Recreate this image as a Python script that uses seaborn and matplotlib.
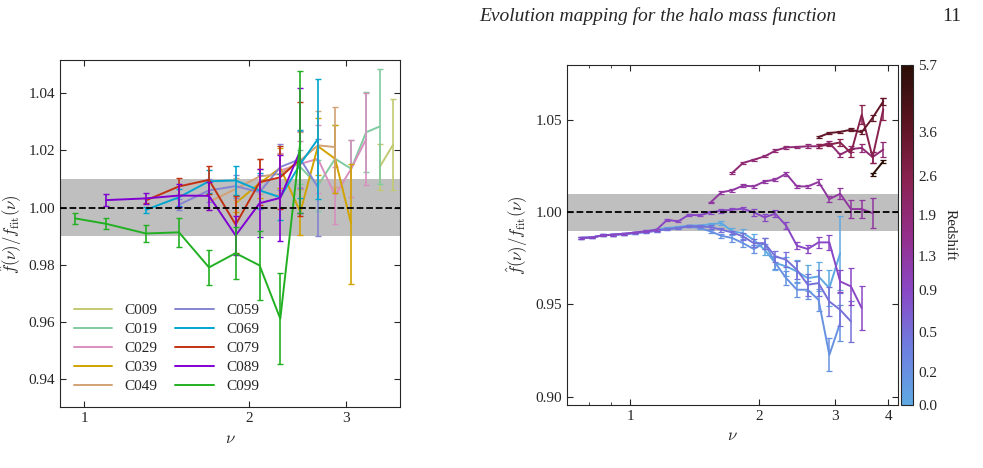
import numpy as np
import matplotlib
matplotlib.use("Agg")
import matplotlib.pyplot as plt
import matplotlib.colors as mcolors
import seaborn as sns
import pandas as pd

# ---------------- left panel data ----------------
nu_left = [0.963, 1.097, 1.297, 1.49, 1.69, 1.89, 2.09, 2.28, 2.48, 2.67, 2.87, 3.07, 3.27, 3.46, 3.66]
left_names = ["C009", "C019", "C029", "C039", "C049", "C059", "C069", "C079", "C089", "C099"]
left_colors = ["#c2c970", "#80cba0", "#d88fc0", "#d1a300", "#d2a275", "#8585d2", "#00a6d0", "#c23212", "#8000d2", "#22b022"]
left_start = [13, 8, 7, 5, 4, 3, 2, 2, 1, 0]
left_vals = [
    [1.0142, 1.0220],
    [1.0142, 1.0077, 1.0171, 1.0136, 1.0264, 1.0284],
    [1.0130, 1.0153, 1.0171, 1.0042, 1.0136, 1.0240],
    [1.0015, 1.0085, 1.0139, 0.9984, 1.0215, 1.0171, 0.9943],
    [1.0020, 1.0065, 1.0109, 1.0118, 1.0165, 1.0218, 1.0212],
    [1.0010, 1.0060, 1.0075, 1.0054, 1.0142, 1.0170, 1.0071],
    [0.9992, 1.0036, 1.0092, 1.0095, 1.0060, 1.0036, 1.0153, 1.0240],
    [1.0025, 1.0074, 1.0097, 0.9940, 1.0089, 1.0106, 1.0170],
    [1.0026, 1.0032, 1.0042, 1.0041, 0.9902, 1.0015, 1.0034, 1.0200],
    [0.9962, 0.9943, 0.9909, 0.9913, 0.9790, 0.9840, 0.9797, 0.9610, 1.0230],
]
left_errs = [
    [0.008, 0.016],
    [0.006, 0.009, 0.012, 0.010, 0.014, 0.020],
    [0.006, 0.008, 0.012, 0.010, 0.010, 0.016],
    [0.003, 0.005, 0.007, 0.008, 0.010, 0.012, 0.021],
    [0.003, 0.004, 0.006, 0.007, 0.010, 0.012, 0.014],
    [0.002, 0.004, 0.004, 0.006, 0.008, 0.010, 0.017],
    [0.001, 0.003, 0.004, 0.005, 0.006, 0.008, 0.012, 0.021],
    [0.001, 0.003, 0.005, 0.010, 0.008, 0.011, 0.020],
    [0.002, 0.002, 0.004, 0.005, 0.007, 0.012, 0.015, 0.022],
    [0.002, 0.002, 0.003, 0.005, 0.006, 0.009, 0.012, 0.016, 0.025],
]

# ---------------- right panel data ----------------
nu_right = [0.767, 0.813, 0.862, 0.913, 0.968, 1.025, 1.087, 1.152, 1.220, 1.293, 1.370,
            1.452, 1.539, 1.631, 1.728, 1.831, 1.941, 2.057, 2.179, 2.309, 2.447, 2.593,
            2.748, 2.912, 3.086, 3.270, 3.465, 3.672, 3.890]
redshifts = [0.0, 0.2, 0.5, 0.9, 1.3, 1.9, 2.6, 3.6, 5.7]
right_start = [0, 0, 0, 0, 12, 14, 22, 22, 27]
right_vals = [
    [0.9861, 0.9864, 0.9875, 0.9879, 0.9882, 0.9888, 0.9897, 0.9906, 0.9915, 0.9920, 0.9928,
     0.9929, 0.9935, 0.9942, 0.9897, 0.9888, 0.9851, 0.9797, 0.9725, 0.9707, 0.9679, 0.9643,
     0.9652, 0.9589, 0.9779],
    [0.9861, 0.9864, 0.9875, 0.9879, 0.9882, 0.9888, 0.9893, 0.9900, 0.9909, 0.9915, 0.9924,
     0.9915, 0.9897, 0.9873, 0.9861, 0.9833, 0.9801, 0.9833, 0.9725, 0.9643, 0.9580, 0.9580,
     0.9525, 0.9226, 0.9399],
    [0.9861, 0.9864, 0.9875, 0.9879, 0.9882, 0.9888, 0.9893, 0.9900, 0.9909, 0.9915, 0.9924,
     0.9924, 0.9920, 0.9906, 0.9891, 0.9870, 0.9833, 0.9833, 0.9761, 0.9743, 0.9688, 0.9607,
     0.9616, 0.9516, 0.9471, 0.9408],
    [0.9861, 0.9864, 0.9875, 0.9879, 0.9884, 0.9891, 0.9897, 0.9906, 0.9960, 0.9951, 0.9987,
     0.9984, 1.0000, 1.0009, 1.0014, 1.0020, 1.0000, 0.9973, 0.9993, 0.9928, 0.9819, 0.9801,
     0.9837, 0.9837, 0.9625, 0.9598, 0.9480],
    [1.0054, 1.0109, 1.0120, 1.0145, 1.0141, 1.0168, 1.0178, 1.0210, 1.0141, 1.0141, 1.0165,
     1.0072, 1.0101, 1.0018, 1.0018, 0.9996],
    [1.0214, 1.0268, 1.0286, 1.0304, 1.0335, 1.0353, 1.0355, 1.0359, 1.0359, 1.0377, 1.0313,
     1.0344, 1.0350, 1.0300, 1.0341],
    [1.0359, 1.0368, 1.0380, 1.0322, 1.0531, 1.0300, 1.0560],
    [1.0409, 1.0431, 1.0437, 1.0449, 1.0435, 1.0513, 1.0603],
    [1.0205, 1.0277],
]
right_errs = [
    [0.0005] * 12 + [0.001, 0.001, 0.002, 0.002, 0.003, 0.003, 0.004, 0.005, 0.006, 0.007, 0.008, 0.010, 0.020],
    [0.0005] * 12 + [0.001, 0.001, 0.002, 0.002, 0.002, 0.003, 0.003, 0.004, 0.004, 0.005, 0.006, 0.009, 0.010],
    [0.0005] * 12 + [0.001, 0.001, 0.001, 0.002, 0.002, 0.003, 0.003, 0.004, 0.005, 0.006, 0.007, 0.008, 0.009, 0.011],
    [0.0005] * 12 + [0.001, 0.001, 0.001, 0.001, 0.002, 0.002, 0.002, 0.002, 0.002, 0.002, 0.003, 0.004, 0.006, 0.010, 0.012],
    [0.0005, 0.0007, 0.0007, 0.0008, 0.0008, 0.001, 0.001, 0.001, 0.001, 0.001, 0.0015, 0.0015, 0.003, 0.005, 0.005, 0.008],
    [0.0005, 0.0005, 0.0005, 0.0005, 0.0007, 0.0007, 0.0008, 0.001, 0.001, 0.001, 0.001, 0.0015, 0.002, 0.003, 0.004],
    [0.001, 0.001, 0.002, 0.002, 0.005, 0.003, 0.006],
    [0.0005, 0.0007, 0.0007, 0.0008, 0.001, 0.0015, 0.002],
    [0.001, 0.001],
]

sns.set_style("ticks")
plt.rcParams["font.family"] = ["Liberation Serif", "DejaVu Serif"]
plt.rcParams["mathtext.fontset"] = "cm"
plt.rcParams["font.size"] = 10

fig = plt.figure(figsize=(9.83, 4.68), dpi=100)
axL = fig.add_axes([0.061, 0.130, 0.346, 0.741])
axR = fig.add_axes([0.577, 0.135, 0.337, 0.726])
cax = fig.add_axes([0.917, 0.135, 0.012, 0.726])

def style(ax):
    ax.set_xscale("log")
    ax.tick_params(which="both", direction="in", top=True, right=True, labelsize=11)
    ax.tick_params(which="major", length=4)
    ax.tick_params(which="minor", length=2)
    for s in ax.spines.values():
        s.set_linewidth(0.8)

# left
axL.axhspan(0.99, 1.01, color="#bfbfbf", lw=0, zorder=0)
axL.axhline(1.0, color="k", ls="--", lw=1.3, zorder=5)
for name, c, st, v, e in zip(left_names, left_colors, left_start, left_vals, left_errs):
    x = nu_left[st:st + len(v)]
    df = pd.DataFrame({"nu": x, "f": v})
    sns.lineplot(data=df, x="nu", y="f", ax=axL, color=c, lw=1.4, label=name, estimator=None, sort=False)
    axL.errorbar(x, v, yerr=e, fmt="none", ecolor=c, elinewidth=1.2, capsize=2.5, capthick=1.0)
style(axL)
axL.set_xlim(0.904, 3.77)
axL.set_ylim(0.93, 1.0516)
axL.set_xticks([1, 2, 3]); axL.set_xticklabels(["1", "2", "3"])
axL.xaxis.set_minor_formatter(matplotlib.ticker.NullFormatter())
axL.set_yticks([0.94, 0.96, 0.98, 1.00, 1.02, 1.04])
axL.set_yticklabels(["0.94", "0.96", "0.98", "1.00", "1.02", "1.04"])
axL.set_xlabel(r"$\nu$", fontsize=12)
axL.set_ylabel(r"$\hat{f}(\nu)/f_{\rm fit}(\nu)$", fontsize=12, labelpad=3)
axL.legend(ncol=2, loc="lower left", frameon=False, fontsize=11, handlelength=2.5, columnspacing=1.2, labelspacing=0.35)

# right
cmap = mcolors.LinearSegmentedColormap.from_list(
    "z", ["#5fa9e2", "#6e7fe0", "#8a48c6", "#942e8a", "#8a2250", "#5a1420", "#2a0e06"])
norm = mcolors.FuncNorm((lambda z: np.log1p(z), lambda y: np.expm1(y)), vmin=0.0, vmax=5.7)
axR.axhspan(0.99, 1.01, color="#bfbfbf", lw=0, zorder=0)
axR.axhline(1.0, color="k", ls="--", lw=1.3, zorder=5)
for z, st, v, e in zip(redshifts, right_start, right_vals, right_errs):
    x = nu_right[st:st + len(v)]
    c = cmap(norm(z))
    df = pd.DataFrame({"nu": x, "f": v})
    sns.lineplot(data=df, x="nu", y="f", ax=axR, color=c, lw=1.4, estimator=None, sort=False)
    axR.errorbar(x, v, yerr=e, fmt="none", ecolor=c, elinewidth=1.1, capsize=2.2, capthick=0.9)
style(axR)
axR.set_xlim(0.713, 4.22)
axR.set_ylim(0.8955, 1.080)
axR.set_xticks([1, 2, 3, 4]); axR.set_xticklabels(["1", "2", "3", "4"])
axR.xaxis.set_minor_formatter(matplotlib.ticker.NullFormatter())
axR.set_yticks([0.90, 0.95, 1.00, 1.05])
axR.set_yticklabels(["0.90", "0.95", "1.00", "1.05"])
axR.set_xlabel(r"$\nu$", fontsize=12)
axR.set_ylabel(r"$\hat{f}(\nu)/f_{\rm fit}(\nu)$", fontsize=12)

sm = matplotlib.cm.ScalarMappable(norm=norm, cmap=cmap)
cb = fig.colorbar(sm, cax=cax)
cb.set_ticks(redshifts)
cb.set_ticklabels(["0.0", "0.2", "0.5", "0.9", "1.3", "1.9", "2.6", "3.6", "5.7"])
cb.ax.tick_params(direction="in", labelsize=11, length=3)
cb.set_label("Redshift", rotation=270, labelpad=14, fontsize=11)

fig.text(0.488, 0.955, "Evolution mapping for the halo mass function", fontsize=14, style="italic")
fig.text(0.978, 0.955, "11", fontsize=14, ha="right")

fig.savefig("out.png", dpi=100)
